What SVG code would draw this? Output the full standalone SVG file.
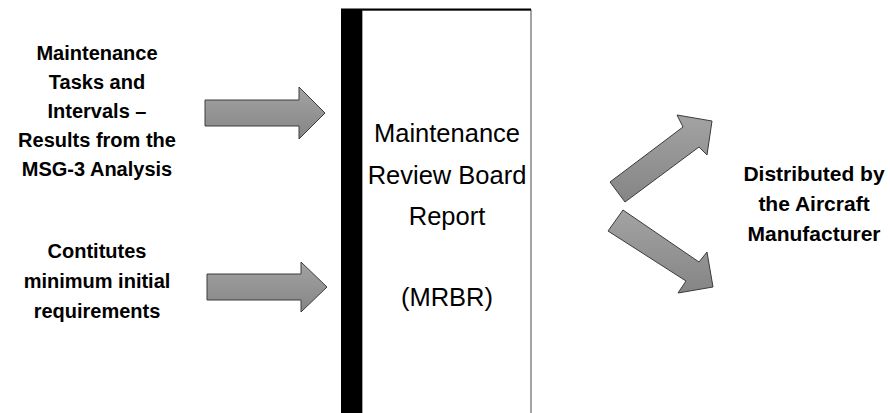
<svg xmlns="http://www.w3.org/2000/svg" width="890" height="413" viewBox="0 0 890 413">
  <defs>
    <linearGradient id="arrowFill" x1="0" y1="0" x2="0" y2="1">
      <stop offset="0" stop-color="#a3a3a3"/>
      <stop offset="1" stop-color="#858585"/>
    </linearGradient>
    <style>
      .arrow { fill: url(#arrowFill); stroke: #3c3c3c; stroke-width: 1; stroke-linejoin: miter; }
      .label { font-family: "Liberation Sans", Arial, sans-serif; font-weight: bold; font-size: 20px; fill: #000; text-anchor: middle; }
      .title { font-family: "Liberation Sans", Arial, sans-serif; font-size: 25.5px; fill: #000; text-anchor: middle; }
    </style>
  </defs>
  <rect width="890" height="413" fill="#fff"/>

  <!-- report document -->
  <g id="mrbr">
    <rect x="362" y="10" width="169" height="410" fill="#fff" stroke="#4a4a4a" stroke-width="1"/>
    <line x1="341" y1="9.5" x2="531" y2="9.5" stroke="#000" stroke-width="2"/>
    <rect x="341" y="9" width="21" height="404" fill="#000"/>
    <text class="title" x="447" y="142">Maintenance</text>
    <text class="title" x="447" y="184">Review Board</text>
    <text class="title" x="447" y="225">Report</text>
    <text class="title" x="447" y="306">(MRBR)</text>
  </g>

  <g id="tasks">
    <text class="label" x="97" y="60">Maintenance</text>
    <text class="label" x="97" y="89">Tasks and</text>
    <text class="label" x="97" y="118">Intervals –</text>
    <text class="label" x="97" y="147">Results from the</text>
    <text class="label" x="97" y="176">MSG-3 Analysis</text>
  </g>

  <g id="requirements">
    <text class="label" x="97" y="258">Contitutes</text>
    <text class="label" x="97" y="288">minimum initial</text>
    <text class="label" x="97" y="318">requirements</text>
  </g>

  <g id="distribution">
    <text class="label" x="814" y="181" style="font-size:21px">Distributed by</text>
    <text class="label" x="814" y="211" style="font-size:21px">the Aircraft</text>
    <text class="label" x="814" y="241" style="font-size:21px">Manufacturer</text>
  </g>

  <!-- block arrows -->
  <g id="connectors">
    <polygon class="arrow" points="205,100 299,100 299,87 325,113 299,139 299,126 205,126"/>
    <polygon class="arrow" points="207,274 301,274 301,262 327,287 301,312 301,300 207,300"/>
    <polygon class="arrow" points="610,182 683,127 677,115 712,121 707,155 699,147 625,202"/>
    <polygon class="arrow" points="623,210 699,262 707,252 713,287 678,293 686,281 608,231"/>
  </g>
</svg>
